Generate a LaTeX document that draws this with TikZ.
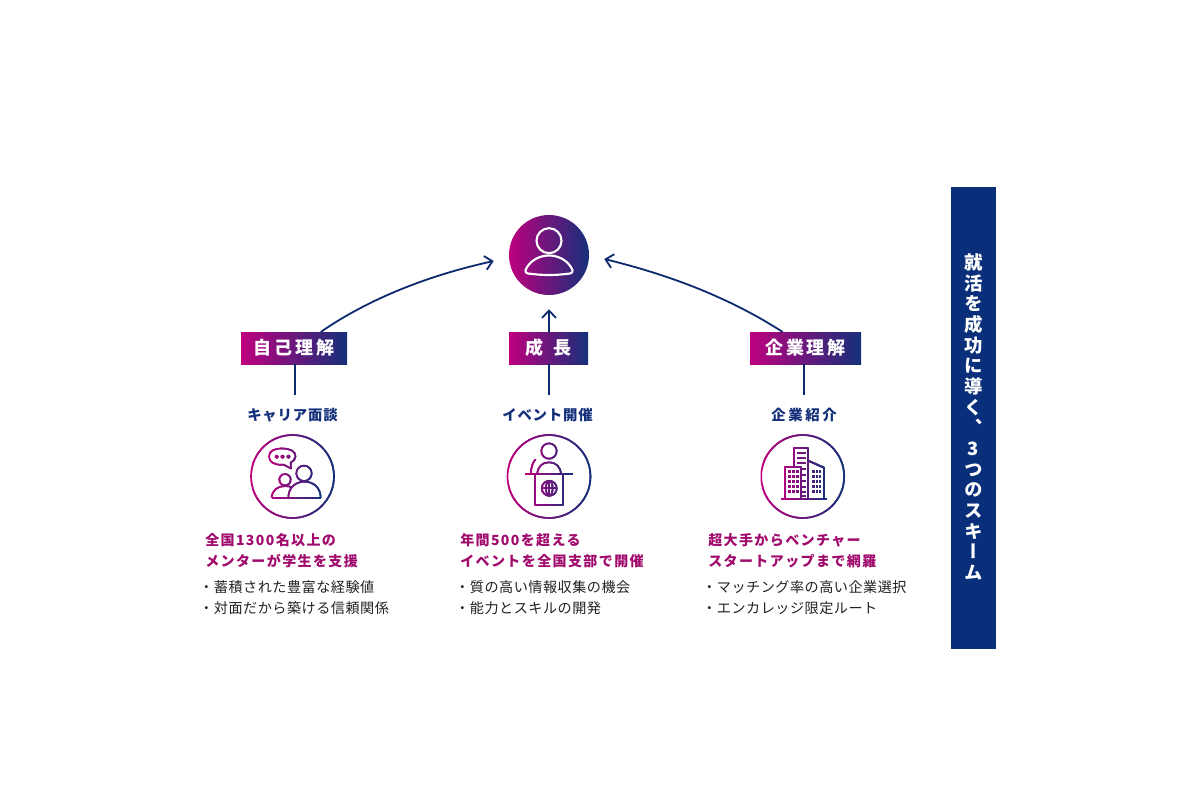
\documentclass[tikz,border=0pt]{standalone}
\usepackage{fontspec}
\usetikzlibrary{arrows.meta,calc}
\setmainfont{Noto Sans CJK JP}
\newfontfamily\jpbadge[LetterSpace=15]{Noto Sans CJK JP}
\newfontfamily\jplabel[LetterSpace=5.5]{Noto Sans CJK JP}
\newfontfamily\jplabelwide[LetterSpace=18]{Noto Sans CJK JP}
\newfontfamily\jphead[LetterSpace=10]{Noto Sans CJK JP}
\newfontfamily\jpbody[LetterSpace=3.5]{Noto Sans CJK JP}
\newfontfamily\jpvert[RawFeature={+vert}]{Noto Sans CJK JP}
\definecolor{mag}{HTML}{BE007F}
\definecolor{nav}{HTML}{14307A}
\definecolor{barblue}{HTML}{0A2F7A}
\definecolor{linkblue}{HTML}{0C2A6E}
\definecolor{headmag}{HTML}{A00A6C}
\definecolor{bodyink}{HTML}{222222}
\newcommand\gradicon[3]{%
  \foreach \i in {0,...,39}{%
    \pgfmathsetmacro\xa{#1+(#2-#1)*\i/40}%
    \pgfmathsetmacro\xb{#1+(#2-#1)*(\i+2.2)/40}%
    \pgfmathsetmacro\pc{\i*100/39}%
    \colorlet{gc}{nav!\pc!mag}%
    \begin{scope}
      \clip (\xa,0) rectangle (\xb,800);
      \begin{scope}[color=gc]
        #3
      \end{scope}
    \end{scope}
  }%
}
\tikzset{
  badge/.style={rectangle,inner sep=0pt,left color=mag,right color=nav,text=white,font=\jpbadge\bfseries\fontsize{13.5}{15}\selectfont,minimum height=24pt},
  labeltext/.style={inner sep=0pt,text=nav,font=\jplabel\bfseries\fontsize{10.8}{14}\selectfont},
  labelwide/.style={labeltext,font=\jplabelwide\bfseries\fontsize{10.8}{14}\selectfont},
  headtext/.style={inner sep=0pt,anchor=west,align=left,text=headmag,font=\jphead\bfseries\fontsize{10.5}{15.75}\selectfont},
  bodytext/.style={inner sep=0pt,anchor=west,align=left,text=bodyink,font=\jpbody\fontsize{10.6}{15.75}\selectfont},
  conn/.style={draw=linkblue,line width=1.35pt},
  arrowconn/.style={conn,line cap=round,-{Straight Barb[length=5.5pt,width=10.5pt,line width=1.35pt]}},
  iconline/.style={line width=1.25pt,line join=round},
  iconheavy/.style={line width=1.45pt,line join=round},
  iconthick/.style={line width=1.9pt},
  whiteline/.style={draw=white,line width=1.6pt,line join=round}
}
\begin{document}
\begin{tikzpicture}[x=0.75pt,y=-0.75pt]
\useasboundingbox (0,0) rectangle (1200,800);
\fill[white] (0,0) rectangle (1200,800);

% right bar
\node[rectangle,fill=barblue,inner sep=0pt,minimum width=33.75pt,minimum height=346.5pt] (bar) at (973.5,418) {};
\node[inner sep=0pt,align=center,text=white,font=\jpvert\bfseries\fontsize{13.8}{15.5}\selectfont] (bartext) at (973.5,417)
  {就\\活\\を\\成\\功\\に\\導\\く\\、\\3\\つ\\の\\ス\\キ\\ー\\ム};

% person
\node[circle,inner sep=0pt,minimum size=60pt,left color=mag,right color=nav] (person) at (549,255) {};
\draw[whiteline] (549,240.7) circle (12.5);
\draw[whiteline] (525.5,270) .. controls (530,260) and (540,255.5) .. (549,255.5)
  .. controls (558,255.5) and (568,260) .. (572.5,270)
  .. controls (573,272) and (572,273) .. (570,273.5)
  .. controls (555,275.5) and (543,275.5) .. (528,273.5)
  .. controls (526,273) and (525,272) .. (525.5,270) -- cycle;

% badges
\node[badge,minimum width=79.5pt] (b1) at (294,348) {自己理解};
\node[badge,minimum width=59.25pt] (b2) at (548.5,348) {成 \hspace{3pt}長};
\node[badge,minimum width=83.25pt] (b3) at (805.5,348) {企業理解};

% connectors
\draw[arrowconn] (b1.31.6) .. controls (370,298) and (430,275) .. ([shift={(-15,6)}]person.west);
\draw[arrowconn] (b3.145.8) .. controls (730,298) and (670,275) .. ([shift={(15,4)}]person.east);
\draw[arrowconn] (b2.north -| person.south) -- ([shift={(0,14)}]person.south);
\coordinate (e1) at (295,395);
\coordinate (e2) at (549,395);
\coordinate (e3) at (804,395);
\draw[conn] (b1.south -| e1) -- (e1);
\draw[conn] (b2.south -| e2) -- (e2);
\draw[conn] (b3.south -| e3) -- (e3);

% labels
\node[labeltext] (l1) at (292.5,415) {キャリア面談};
\node[labeltext] (l2) at (547.5,415) {イベント開催};
\node[labelwide] (l3) at (804,415) {企業紹介};

% icon rings
\gradicon{250}{335}{\draw[iconline] (292.5,476.5) circle (41.5);}
\gradicon{506.5}{591.5}{\draw[iconline] (549,476.5) circle (41.5);}
\gradicon{760.5}{845}{\draw[iconline] (802.7,476.5) circle (41.5);}

% icon 1: two people with speech bubble
\gradicon{268}{322}{%
  \draw[iconline] (269,456.5) .. controls (269,451) and (274,448.5) .. (282,448.5)
    .. controls (290,448.5) and (295.5,451) .. (295.5,456.5)
    .. controls (295.5,459.5) and (293,461.5) .. (290.7,462.5)
    -- (291,468.5) -- (284,464.8) -- (282,464.8)
    .. controls (274,464.8) and (269,462) .. (269,456.5) -- cycle;
  \draw[iconline] (276.7,456.7) circle (1.3) (282.5,456.7) circle (1.3) (288.5,456.7) circle (1.3);
  \draw[iconline] (285,479.7) circle (5.7);
  \draw[iconline] (304,473.3) circle (7.7);
  \draw[iconline] (271.7,497.7) .. controls (272,490) and (278,486) .. (285,486) .. controls (288,486) and (290,486.5) .. (292,487.5);
  \draw[iconline] (288.3,497.7) .. controls (288.5,488) and (295,481.7) .. (304.5,481.7) .. controls (314,481.7) and (320.5,488) .. (320.7,497.7);
  \draw[iconline] (271.7,497.7) -- (320.7,497.7);
}

% icon 2: speaker at podium
\gradicon{524}{574}{%
  \draw[iconline] (549,451) circle (7.7);
  \draw[iconline] (537.3,474.3) .. controls (537.5,467) and (542,462.3) .. (549,462.3) .. controls (556,462.3) and (560.8,467) .. (561,474.3);
  \draw[iconline] (530.7,474.3) .. controls (531,468) and (532.5,462) .. (535.7,459.3);
  \draw[iconline] (525,474.3) -- (573.3,474.3);
  \draw[iconheavy] (534.7,474.3) -- (534.7,505.3) -- (562.7,505.3) -- (562.7,474.3);
  \draw[iconline] (549.3,488.3) circle (7.5);
  \draw[iconline] (549.3,488.3) ellipse (3.4 and 7.5);
  \draw[iconline] (549.3,480.8) -- (549.3,495.8);
  \draw[iconline] (541.8,488.3) -- (556.8,488.3);
}

% icon 3: buildings
\gradicon{780}{828}{%
  \draw[iconheavy] (793.7,466.7) -- (793.7,448.3) -- (808.3,448.3) -- (808.3,499);
  \draw[iconheavy] (785,499) -- (785,466.7) -- (801,466.7) -- (801,499);
  \draw[iconheavy] (808.3,460.7) -- (824,467.7) -- (824,499);
  \draw[iconthick] (781,499) -- (827.3,499);
  \foreach \yy in {452.7,458.3,463.3} {\draw[iconline] (796.7,\yy) -- (805.7,\yy);}
  \foreach \yy in {469.3,475,480.7,486.7,491.7,496} {\draw[iconline] (802.3,\yy) -- (806,\yy);}
  \foreach \xx in {789.3,793.3,797.3,813.3,816.7,820} {
    \foreach \yy in {471.7,476.7,481.7,486.7,491.7} {
      \fill (\xx-1.2,\yy-1.5) rectangle (\xx+1.2,\yy+1.5);
    }
  }
}

% text blocks
\node[headtext] (h1) at (205,550.5) {全国1300名以上の\\メンターが学生を支援};
\node[headtext] (h2) at (460,550.5) {年間500を超える\\イベントを全国支部で開催};
\node[headtext] (h3) at (708,550.5) {超大手からベンチャー\\スタートアップまで網羅};
\node[bodytext] (t1) at (199,597.5) {・蓄積された豊富な経験値\\・対面だから築ける信頼関係};
\node[bodytext] (t2) at (455,597.5) {・質の高い情報収集の機会\\・能力とスキルの開発};
\node[bodytext] (t3) at (702,597.5) {・マッチング率の高い企業選択\\・エンカレッジ限定ルート};
\end{tikzpicture}
\end{document}
